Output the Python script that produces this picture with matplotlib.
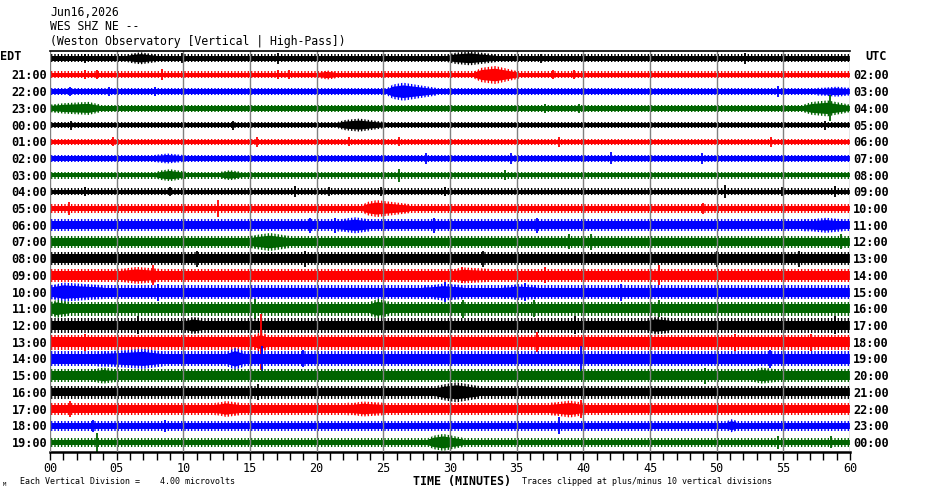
import matplotlib
matplotlib.use("Agg")
import matplotlib.pyplot as plt

# ---------------- data ----------------
title_date = "Jun16,2026"
title_station = "WES SHZ NE --"
title_desc = "(Weston Observatory [Vertical | High-Pass])"

edt_labels = ["EDT", "21:00", "22:00", "23:00", "00:00", "01:00", "02:00", "03:00",
              "04:00", "05:00", "06:00", "07:00", "08:00", "09:00", "10:00", "11:00",
              "12:00", "13:00", "14:00", "15:00", "16:00", "17:00", "18:00", "19:00"]
utc_labels = ["UTC", "02:00", "03:00", "04:00", "05:00", "06:00", "07:00", "08:00",
              "09:00", "10:00", "11:00", "12:00", "13:00", "14:00", "15:00", "16:00",
              "17:00", "18:00", "19:00", "20:00", "21:00", "22:00", "23:00", "00:00"]
trace_colors = ["#000000", "#ff0000", "#0000ff", "#006400"]

minute_ticks = list(range(0, 61, 5))
minute_tick_labels = ["%02d" % m for m in minute_ticks]

# background noise half-amplitude of each hourly trace (pixels): solid core, noisy fringe
base_amp = [2.4, 2.3, 2.4, 2.4, 2.2, 2.1, 2.3, 2.3,
            2.3, 2.9, 3.8, 3.8, 4.2, 4.2, 4.5, 4.5,
            4.8, 4.8, 4.8, 4.1, 4.1, 4.1, 3.2, 2.9]
fringe_amp = [3.8, 3.5, 3.8, 3.8, 3.3, 3.2, 3.5, 3.5,
              3.5, 4.5, 6.0, 6.0, 6.5, 6.5, 7.0, 7.0,
              7.5, 7.5, 7.5, 6.3, 6.3, 6.3, 5.0, 4.5]

# wave trains: (start minute, peak minute, end minute, peak half-amplitude)
bursts = [
    [(5.8, 6.8, 8.0, 6), (29.8, 31.5, 33.5, 7)],
    [(31.8, 33.4, 35.2, 9), (20.2, 20.8, 21.4, 4.5)],
    [(25.3, 26.5, 29.0, 9), (57.5, 59.0, 60.0, 5)],
    [(0.0, 2.9, 3.8, 6.5), (56.5, 58.3, 60.0, 8)],
    [(21.6, 23.2, 25.0, 6.5)],
    [],
    [(7.8, 8.8, 10.0, 5)],
    [(8.0, 9.0, 10.2, 6), (12.8, 13.5, 14.3, 5)],
    [],
    [(23.5, 24.5, 27.0, 8.5)],
    [(21.5, 22.9, 24.0, 8), (56.5, 58.2, 59.5, 7.5)],
    [(15.0, 16.5, 18.0, 9)],
    [],
    [(5.0, 6.5, 8.3, 8.5), (30.0, 31.0, 33.0, 8)],
    [(0.0, 1.0, 4.0, 9.5), (28.0, 29.5, 31.0, 8.5), (34.0, 35.0, 36.5, 8)],
    [(0.0, 0.5, 1.5, 9), (24.0, 24.6, 25.5, 10)],
    [(10.1, 10.7, 11.4, 8.5), (44.8, 45.4, 46.5, 9)],
    [(15.3, 15.8, 16.3, 10)],
    [(3.5, 7.0, 8.5, 10), (13.3, 13.9, 14.6, 11)],
    [(3.0, 4.0, 5.0, 8), (52.5, 53.4, 54.5, 8)],
    [(29.0, 30.5, 32.2, 10)],
    [(12.4, 13.2, 14.2, 8), (22.3, 23.5, 25.0, 7.5), (37.5, 39.0, 40.0, 8.5)],
    [(50.8, 51.1, 51.5, 6.5)],
    [(28.4, 29.5, 31.0, 8.5)],
]

# isolated spikes: (minute, half-amplitude)
spikes = [
    [(2.6, 4.5), (9.9, 5), (17.1, 5.5), (36.8, 4.5), (52.1, 5.5)],
    [(2.6, 4.5), (3.5, 4.5), (8.4, 5.5), (17.1, 4.5), (17.9, 4.5), (37.7, 4.5), (39.3, 4.5)],
    [(1.5, 4.5), (4.4, 4.5), (7.9, 4.5), (54.6, 5.5)],
    [(58.5, 13), (37.1, 4.5), (39.7, 4.5)],
    [(1.6, 4.5), (13.7, 4.5), (58.1, 4.5)],
    [(4.7, 4.5), (15.5, 5), (22.4, 4.5), (26.2, 4.5), (38.2, 5), (54.1, 5)],
    [(28.2, 5.5), (34.6, 5.5), (42.1, 6), (48.9, 5.5)],
    [(26.2, 6.5), (34.1, 5)],
    [(2.6, 4.5), (9.0, 4.5), (18.4, 5.5), (20.9, 4.5), (24.8, 4.5), (29.6, 4.5), (50.6, 6.5), (54.9, 4.5), (58.9, 5.5)],
    [(1.4, 6.5), (12.6, 8.5), (49.0, 5.5)],
    [(19.5, 7.5), (21.4, 7.5), (28.8, 7.5), (36.5, 7.5)],
    [(38.9, 7.5), (40.6, 8), (59.3, 7.5)],
    [(11.0, 8), (19.1, 8), (32.5, 8), (50.0, 8), (56.2, 8)],
    [(7.7, 10), (30.9, 8), (37.1, 8), (45.7, 10)],
    [(8.1, 8.5), (29.6, 10), (35.6, 9), (42.8, 8.5)],
    [(15.4, 10), (31.0, 9), (36.3, 8.5), (45.7, 8.5)],
    [(6.6, 9), (39.4, 9), (58.9, 9)],
    [(15.8, 28), (2.6, 8.5), (36.5, 10), (51.4, 8.5), (57.1, 8.5)],
    [(15.9, 13), (19.0, 8.5), (39.8, 13), (54.0, 9)],
    [(49.1, 8)],
    [(15.6, 8)],
    [(1.5, 8), (39.8, 9)],
    [(3.2, 6), (8.6, 6), (38.2, 8.5)],
    [(3.5, 9.5), (54.6, 6.5), (58.6, 6)],
]

# ---------------- figure ----------------
plt.rcParams["hatch.linewidth"] = 1.0
W, H = 930, 494
fig = plt.figure(figsize=(W / 100, H / 100), dpi=100)
fig.patch.set_facecolor("white")
ax = fig.add_axes([50 / W, 42 / H, 800 / W, 401 / H])

top_px, bot_px = 51, 452
row0, row_step = 58.3, 16.7
ax.set_xlim(0, 60)
ax.set_ylim(bot_px, top_px)

mono = "DejaVu Sans Mono"
HATCH = "|||||"

for i in range(len(base_amp)):
    y = row0 + i * row_step
    c = trace_colors[i % 4]
    b = base_amp[i]
    f = fringe_amp[i]
    ax.fill_between([0, 60], y - b, y + b, color=c, lw=0, zorder=2)
    ax.fill_between([0, 60], y - f, y + f, fc="none", ec=c, hatch=HATCH, lw=0, zorder=2)
    for (s, p, e, a) in bursts[i]:
        onset = s + (p - s) * 0.35
        xs = [s, onset, p, e, e, p, onset, s]
        ax.fill(xs, [y - b, y - a * 0.55, y - a * 0.7, y - b, y + b, y + a * 0.7, y + a * 0.55, y + b],
                color=c, lw=0, zorder=2)
        ax.fill(xs, [y - f, y - a * 0.8, y - a, y - f, y + f, y + a, y + a * 0.8, y + f],
                fc="none", ec=c, hatch=HATCH, lw=0, zorder=2)
    for (m, a) in spikes[i]:
        ax.vlines(m, y - a, y + a, color=c, lw=1.3, zorder=2)
    ax.text(-0.2, y + 1, edt_labels[i] if i else "", ha="right", va="center",
            fontsize=8.6, fontweight="bold", family=mono, clip_on=False)
    ax.text(60.25, y + 1, utc_labels[i] if i else "", ha="left", va="center",
            fontsize=8.6, fontweight="bold", family=mono, clip_on=False)

# header row labels
fig.text(0 / W, 1 - 56 / H, edt_labels[0], ha="left", va="center",
         fontsize=8.6, fontweight="bold", family=mono)
fig.text(865 / W, 1 - 56 / H, utc_labels[0], ha="left", va="center",
         fontsize=8.6, fontweight="bold", family=mono)

# 5-minute grid lines on top of the traces
for m in minute_ticks:
    ax.axvline(m, color="#808080", lw=1.0, zorder=3)

for side in ["left", "right"]:
    ax.spines[side].set_visible(False)
ax.spines["top"].set_color("black")
ax.spines["top"].set_linewidth(1.2)
ax.spines["top"].set_zorder(4)
ax.spines["bottom"].set_color("black")
ax.spines["bottom"].set_linewidth(1.8)

ax.set_yticks([])
ax.set_xticks(minute_ticks)
ax.set_xticklabels(minute_tick_labels, family=mono, fontsize=8.5)
ax.set_xticks(range(0, 61), minor=True)
ax.tick_params(axis="x", which="both", direction="out", length=5.5, width=1,
               color="black", pad=1.5)

# titles
fig.text(50 / W, 1 - 12 / H, title_date, ha="left", va="center", fontsize=8.3, family=mono)
fig.text(50 / W, 1 - 27 / H, title_station, ha="left", va="center", fontsize=8.3, family=mono)
fig.text(50 / W, 1 - 42 / H, title_desc, ha="left", va="center", fontsize=8.3, family=mono)

# footer
fig.text(462 / W, 1 - 481.5 / H, "TIME (MINUTES)", ha="center", va="center",
         fontsize=8.4, fontweight="bold", family=mono)
fig.text(20 / W, 1 - 481 / H, "Each Vertical Division =    4.00 microvolts", ha="left",
         va="center", fontsize=6.0, family=mono)
fig.text(522 / W, 1 - 481 / H, "Traces clipped at plus/minus 10 vertical divisions",
         ha="left", va="center", fontsize=6.0, family=mono)
fig.text(3 / W, 1 - 484 / H, "M", ha="left", va="center", fontsize=4, family=mono)

fig.savefig("out.png", dpi=100, facecolor="white")
